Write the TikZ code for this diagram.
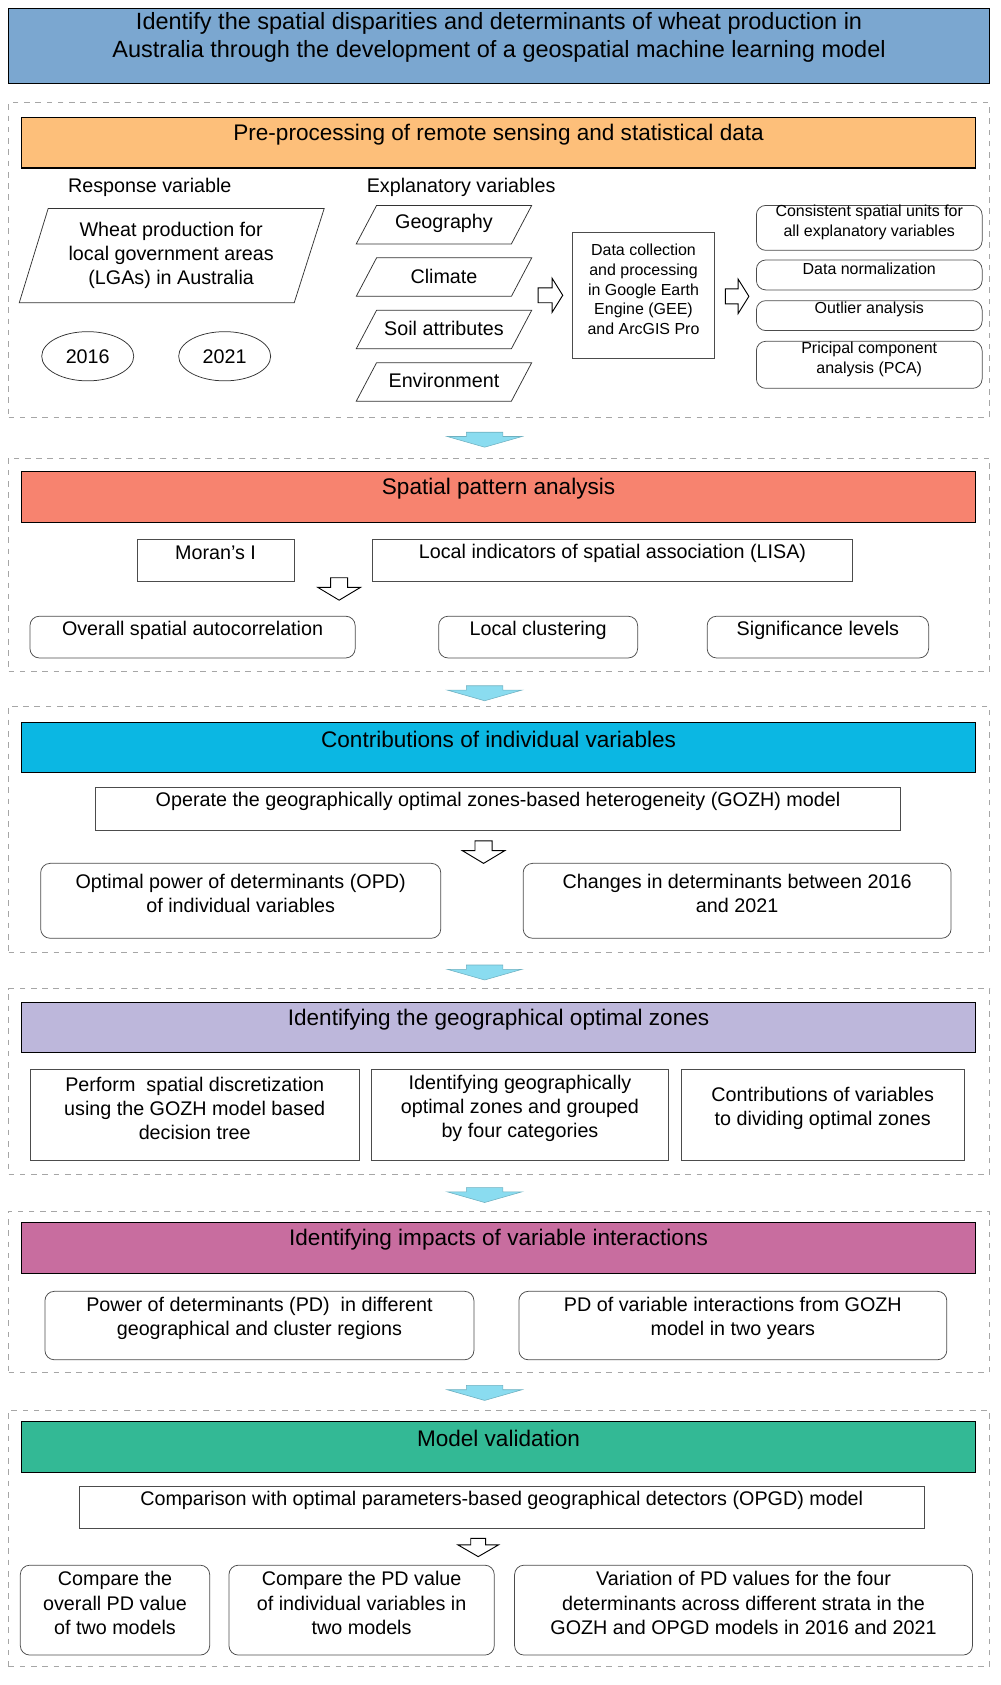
\documentclass[tikz,border=0pt]{standalone}
\usepackage{fontspec}
\setmainfont{Liberation Sans}
\usetikzlibrary{fit}
\definecolor{ctitle}{HTML}{7BA7D0}
\definecolor{cpre}{HTML}{FDBF7A}
\definecolor{cspat}{HTML}{F7836F}
\definecolor{ccontr}{HTML}{0BB7E3}
\definecolor{czone}{HTML}{BDB7DB}
\definecolor{cinter}{HTML}{C86D9F}
\definecolor{cval}{HTML}{33B995}
\definecolor{carr}{HTML}{8ADCF0}
\begin{document}
\begin{tikzpicture}[x=0.02cm,y=-0.02cm,
  sec/.style={draw=gray!70,dashed,inner sep=0},
  hdr/.style={draw=black,semithick,inner sep=0,font=\fontsize{12}{14}\selectfont},
  box/.style={draw=black!70,inner sep=0,align=center,font=\fontsize{10.5}{12.8}\selectfont},
  rbox/.style={box,rounded corners=5pt},
  sbox/.style={box,font=\fontsize{8.5}{10.5}\selectfont},
  srbox/.style={sbox,rounded corners=5pt},
  txt/.style={font=\fontsize{10.5}{12.8}\selectfont,align=center,inner sep=0},
  blue/.style={fill=carr,draw=carr!80!black,line width=0.3pt},
  open/.style={fill=white,draw=black,line width=0.5pt}]
\useasboundingbox (0,0) rectangle (935,1575);
% title
\node[hdr,fill=ctitle,align=center,fit={(8,8) (925,78)},font=\fontsize{12.5}{15}\selectfont] (title) {Identify the spatial disparities and determinants of wheat production in\\Australia through the development of a geospatial machine learning model};
% sections
\node[sec,fit={(8,96) (925,390)}] (s1) {};
\node[sec,fit={(8,428) (925,628)}] (s2) {};
\node[sec,fit={(8,660) (925,890)}] (s3) {};
\node[sec,fit={(8,924) (925,1098)}] (s4) {};
\node[sec,fit={(8,1132) (925,1283)}] (s5) {};
\node[sec,fit={(8,1318) (925,1558)}] (s6) {};
\node[hdr,fill=cpre,fit={(20,110) (912,157)}] (h1) {Pre-processing of remote sensing and statistical data};
\node[hdr,fill=cspat,fit={(20,441) (912,488)}] (h2) {Spatial pattern analysis};
\node[hdr,fill=ccontr,fit={(20,675) (912,722)}] (h3) {Contributions of individual variables};
\node[hdr,fill=czone,fit={(20,937) (912,984)}] (h4) {Identifying the geographical optimal zones};
\node[hdr,fill=cinter,fit={(20,1143) (912,1190)}] (h5) {Identifying impacts of variable interactions};
\node[hdr,fill=cval,fit={(20,1329) (912,1376)}] (h6) {Model validation};
% blue arrows between sections
\foreach \y/\n in {404/a1,641/a2,902/a3,1110/a4,1295/a5}{
  \draw[blue] (436,\y) -- (470,\y) -- (470,\y+4) -- (488,\y+4) -- (453,\y+14) -- (418,\y+4) -- (436,\y+4) -- cycle;
  \coordinate (\n) at (453,\y);}
% S1
\node[txt] (resp) at (140,175) {Response variable};
\draw[black!80] (45,195) -- (303,195) -- (275,283) -- (18,283) -- cycle;
\node[txt] (wheat) at (160,239) {Wheat production for\\local government areas\\(LGAs) in Australia};
\draw[black!80] (82,333) ellipse (43 and 23);
\node[txt] (y16) at (82,333) {2016};
\draw[black!80] (210,333) ellipse (43 and 23);
\node[txt] (y21) at (210,333) {2021};
\node[txt] (expl) at (431,175) {Explanatory variables};
\foreach \y/\t/\n in {210/Geography/geo,259/Climate/cli,308/Soil attributes/soil,357/Environment/env}{
  \draw[black!80] (352,\y-18) -- (497,\y-18) -- (478,\y+18) -- (333,\y+18) -- cycle;
  \node[txt] (\n) at (415,\y-1) {\t};}
\draw[open] (503,269) -- (516,269) -- (516,260) -- (526,276) -- (516,292) -- (516,283) -- (503,283) -- cycle;
\node[sbox,fit={(535,217) (668,335)}] (gee) {Data collection\\and processing\\in Google Earth\\Engine (GEE)\\and ArcGIS Pro};
\draw[open] (678,270) -- (690,270) -- (690,261) -- (700,277) -- (690,293) -- (690,284) -- (678,284) -- cycle;
\node[srbox,fit={(707,192) (918,234)}] (p1) {Consistent spatial units for\\all explanatory variables};
\node[srbox,fit={(707,243) (918,271)}] (p2) {Data normalization};
\node[srbox,fit={(707,281) (918,309)}] (p3) {Outlier analysis};
\node[srbox,fit={(707,319) (918,363)}] (p4) {Pricipal component\\analysis (PCA)};
% S2
\node[box,fit={(128,504) (275,543)}] (moran) {Moran’s I};
\node[box,fit={(348,504) (797,543)}] (lisa) {Local indicators of spatial association (LISA)};
\draw[open] (309,540) -- (325,540) -- (325,549) -- (337,549) -- (317,561) -- (297,549) -- (309,549) -- cycle;
\node[rbox,fit={(28,576) (332,615)}] (overall) {Overall spatial autocorrelation};
\node[rbox,fit={(410,576) (596,615)}] (local) {Local clustering};
\node[rbox,fit={(661,576) (868,615)}] (sig) {Significance levels};
% S3
\node[box,fit={(89,736) (842,776)}] (gozh) {Operate the geographically optimal zones-based heterogeneity (GOZH) model};
\draw[open] (444,786) -- (460,786) -- (460,795) -- (472,795) -- (452,807) -- (432,795) -- (444,795) -- cycle;
\node[rbox,fit={(38,807) (412,877)}] (opd) {Optimal power of determinants (OPD)\\of individual variables};
\node[rbox,fit={(489,807) (889,877)}] (chg) {Changes in determinants between 2016\\and 2021};
% S4
\node[box,fit={(28,1000) (336,1085)}] (disc) {Perform\ \ spatial discretization\\using the GOZH model based\\decision tree};
\node[box,fit={(347,1000) (625,1085)}] (ident) {Identifying geographically\\optimal zones and grouped\\by four categories};
\node[box,fit={(637,1000) (901,1085)}] (contv) {Contributions of variables\\to dividing optimal zones};
% S5
\node[rbox,fit={(42,1207) (443,1271)}] (pdreg) {Power of determinants (PD)\ \ in different\\geographical and cluster regions};
\node[rbox,fit={(485,1207) (885,1271)}] (pdint) {PD of variable interactions from GOZH\\model in two years};
% S6
\node[box,fit={(74,1389) (864,1429)}] (opgd) {Comparison with optimal parameters-based geographical detectors (OPGD) model};
\draw[open] (440,1438) -- (454,1438) -- (454,1444) -- (466,1444) -- (447,1455) -- (428,1444) -- (440,1444) -- cycle;
\node[rbox,fit={(19,1463) (196,1547)}] (c1) {Compare the\\overall PD value\\of two models};
\node[rbox,fit={(214,1463) (462,1547)}] (c2) {Compare the PD value\\of individual variables in\\two models};
\node[rbox,fit={(481,1463) (909,1547)}] (c3) {Variation of PD values for the four\\determinants across different strata in the\\GOZH and OPGD models in 2016 and 2021};
\end{tikzpicture}
\end{document}
